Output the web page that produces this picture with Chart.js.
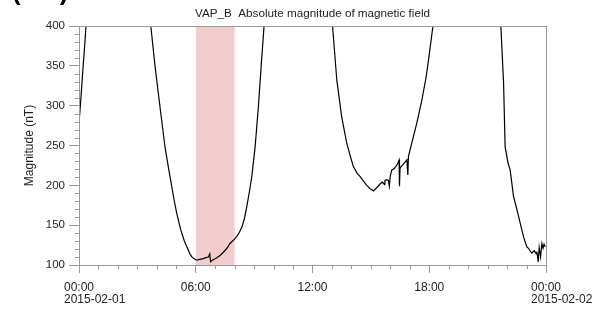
<!DOCTYPE html>
<html>
<head>
<meta charset="utf-8">
<script src="https://cdn.jsdelivr.net/npm/chart.js@4.4.1/dist/chart.umd.min.js"></script>
<style>
  html, body { margin: 0; padding: 0; background: #fff; }
  #wrap { width: 608px; height: 309px; }
</style>
</head>
<body>
<div id="wrap"><canvas id="chart1"></canvas></div>
<script>
// time in hours from 2015-02-01 00:00, field magnitude in nT
const hours = [
  0, 0.1, 0.2, 0.3, 0.36, 1.0, 2.0, 3.0,
  3.69, 3.91, 4.16, 4.42, 4.6, 4.77, 4.9, 5.02, 5.23, 5.4, 5.54, 5.7, 5.79, 5.9, 6.05, 6.2, 6.39, 6.55, 6.65, 6.72, 6.76, 6.85, 7.0, 7.08, 7.25, 7.42, 7.6, 7.76, 8.02, 8.2, 8.36, 8.5, 8.62, 8.75, 8.88, 9.05, 9.22, 9.36, 9.51, 10.5, 12.0, 12.5,
  13.03, 13.25, 13.5, 13.76, 13.95, 14.1, 14.3, 14.45, 14.6, 14.79, 14.95, 15.13, 15.3, 15.48, 15.6, 15.7, 15.72, 15.8, 15.9, 15.95, 16.0, 16.07, 16.2, 16.35, 16.45, 16.47, 16.5, 16.65, 16.85, 16.9, 16.93, 17.1, 17.36, 17.62, 17.84, 18.01, 18.19, 19.0, 20.5, 21.3,
  21.68, 21.82, 21.9, 21.96, 22.05, 22.16, 22.33, 22.45, 22.59, 22.84, 23.01, 23.1, 23.2, 23.27, 23.4, 23.5, 23.53, 23.6, 23.65, 23.72, 23.79, 23.85, 23.9, 23.96
];
const magnitude = [
  278, 310, 345, 378, 400, 620, 900, 650,
  400, 349, 299, 248, 222, 198, 180, 165, 144, 131, 123, 114, 110.5, 108, 106, 107, 108, 109.5, 110, 114, 104, 106, 108, 109, 112, 116, 121, 127, 133, 139, 147, 158, 173, 191, 211, 248, 299, 349, 400, 700, 800, 600,
  400, 332, 286, 253, 236, 223.5, 215, 211, 206, 200, 196, 193, 197, 202, 204, 201, 206, 207, 206, 199, 212, 219, 221, 226, 232, 199, 222, 226, 232, 213, 236, 253, 278, 307, 336, 366, 400, 700, 800, 550,
  400, 328, 248, 240, 228, 219, 186, 175, 161, 136, 123, 121, 117, 115, 118, 114, 117, 104, 122, 110, 127, 121, 126, 123
];
const bandStart = 6;
const bandEnd = 8;
const xTickLabels = ['00:00', '06:00', '12:00', '18:00', '00:00'];
const xDateLabels = ['2015-02-01', '', '', '', '2015-02-02'];

const points = hours.map((h, i) => ({ x: h, y: magnitude[i] }));

const framePlugin = {
  id: 'frame',
  beforeDatasetsDraw(chart) {
    const { ctx, chartArea, scales } = chart;
    const x0 = scales.x.getPixelForValue(bandStart);
    const x1 = scales.x.getPixelForValue(bandEnd);
    ctx.save();
    ctx.fillStyle = 'rgb(242, 205, 205)';
    ctx.fillRect(x0, chartArea.top, x1 - x0, chartArea.bottom - chartArea.top);
    ctx.restore();
  },
  afterDraw(chart) {
    const { ctx, chartArea, scales } = chart;
    ctx.save();
    ctx.strokeStyle = '#999';
    ctx.lineWidth = 1;
    ctx.strokeRect(chartArea.left + 0.5, chartArea.top + 0.5, chartArea.right - chartArea.left, chartArea.bottom - chartArea.top);
    // minor ticks
    ctx.beginPath();
    for (let h = 0; h <= 24; h++) {
      if (h % 6 === 0) continue;
      const px = Math.round(scales.x.getPixelForValue(h)) + 0.5;
      ctx.moveTo(px, chartArea.bottom);
      ctx.lineTo(px, chartArea.bottom + 4);
    }
    for (let v = 100; v <= 400; v += 10) {
      if (v % 50 === 0) continue;
      const py = Math.round(scales.y.getPixelForValue(v)) + 0.5;
      ctx.moveTo(chartArea.left, py);
      ctx.lineTo(chartArea.left - 4, py);
    }
    ctx.stroke();
    // title
    ctx.fillStyle = '#222';
    ctx.font = '11.7px "Liberation Sans", Arial, sans-serif';
    ctx.textAlign = 'center';
    ctx.textBaseline = 'middle';
    ctx.fillText('VAP_B  Absolute magnitude of magnetic field', (chartArea.left + chartArea.right) / 2, 14);
    // panel label, cut at the top edge
    ctx.fillStyle = '#000';
    ctx.font = 'bold 26px "Liberation Sans", Arial, sans-serif';
    ctx.textAlign = 'left';
    ctx.textBaseline = 'alphabetic';
    ctx.fillText('(1-b)', 12, 0);
    ctx.restore();
  }
};

const ctx1 = document.getElementById('chart1');

new Chart(ctx1, {
  type: 'line',
  data: {
    datasets: [{
      label: 'Magnitude',
      data: points,
      borderColor: '#000',
      borderWidth: 1.2,
      pointRadius: 0,
      tension: 0,
      fill: false
    }]
  },
  options: {
    responsive: true,
    maintainAspectRatio: false,
    animation: false,
    layout: { padding: { left: 0, right: 62, top: 26, bottom: 0 } },
    plugins: {
      legend: { display: false },
      tooltip: { enabled: false }
    },
    scales: {
      x: {
        type: 'linear',
        min: 0,
        max: 24,
        afterFit: (s) => { s.height = 44; s.paddingLeft = 0; s.paddingRight = 0; },
        border: { display: true, color: '#999' },
        grid: { drawOnChartArea: false, tickLength: 8, color: '#999' },
        ticks: {
          stepSize: 6,
          autoSkip: false,
          maxRotation: 0,
          align: 'start',
          labelOffset: -15,
          padding: 9,
          color: '#222',
          font: { family: '"Liberation Sans", Arial, sans-serif', size: 12, lineHeight: 1.0 },
          callback: (v) => {
            const i = Math.round(v / 6);
            return xDateLabels[i] ? [xTickLabels[i], xDateLabels[i]] : xTickLabels[i];
          }
        }
      },
      y: {
        min: 100,
        max: 400,
        afterFit: (s) => { s.width = 79; s.paddingTop = 0; s.paddingBottom = 0; },
        border: { display: true, color: '#999' },
        grid: { drawOnChartArea: false, tickLength: 10, color: '#999' },
        ticks: {
          stepSize: 50,
          padding: 4,
          color: '#222',
          font: { family: '"Liberation Sans", Arial, sans-serif', size: 11.5 }
        },
        title: {
          display: true,
          text: 'Magnitude (nT)',
          color: '#222',
          padding: { top: 22, bottom: 0 },
          font: { family: '"Liberation Sans", Arial, sans-serif', size: 12 }
        }
      }
    }
  },
  plugins: [framePlugin]
});
</script>
</body>
</html>
